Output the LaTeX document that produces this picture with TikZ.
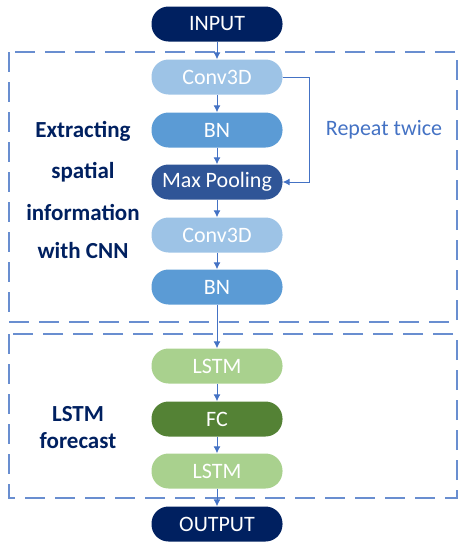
\documentclass[tikz,border=0pt]{standalone}
\usepackage{fontspec}
\setmainfont{Carlito}
\usepackage{tikz}
\tikzset{>=latex}
\usepackage{xcolor}
\usetikzlibrary{arrows.meta}
\definecolor{navy}{HTML}{002060}
\definecolor{convblue}{HTML}{9DC3E6}
\definecolor{bnblue}{HTML}{5B9BD5}
\definecolor{poolblue}{HTML}{2F5597}
\definecolor{lstmgreen}{HTML}{A9D18E}
\definecolor{fcgreen}{HTML}{548235}
\definecolor{linkblue}{HTML}{4472C4}
\tikzset{
    layer/.style={rectangle, rounded corners=17pt, minimum width=131pt, minimum height=35pt,
        inner sep=0pt, text=white, font=\fontsize{22}{26}\selectfont},
    link/.style={linkblue, line width=1pt, -{Latex[length=7pt,width=7pt]}},
    frame/.style={linkblue!80, line width=1.2pt, dash pattern=on 20pt off 10pt},
    caption/.style={navy, font=\fontsize{23}{27}\selectfont\bfseries, align=center}
}

\begin{document}
\begin{tikzpicture}[x=1pt, y=-1pt]
    \useasboundingbox (0, 0) rectangle (471, 550);
    % dashed frames
    \draw [frame] (9, 52) rectangle (457, 322);
    \draw [frame] (9, 334) rectangle (457, 498);
    % layers
    \node [layer, fill=navy] (input) at (217, 24) {INPUT};
    \node [layer, fill=convblue] (conv1) at (217, 77) {Conv3D};
    \node [layer, fill=bnblue] (bn1) at (217, 130) {BN};
    \node [layer, fill=poolblue] (pool) at (217, 182) {Max Pooling};
    \node [layer, fill=convblue] (conv2) at (217, 235) {Conv3D};
    \node [layer, fill=bnblue] (bn2) at (217, 287) {BN};
    \node [layer, fill=lstmgreen] (lstm1) at (217, 366) {LSTM};
    \node [layer, fill=fcgreen] (fc) at (217, 419) {FC};
    \node [layer, fill=lstmgreen] (lstm2) at (217, 471) {LSTM};
    \node [layer, fill=navy] (output) at (217, 524) {OUTPUT};
    % links
    \draw [link] (input) -- (conv1);
    \draw [link] (conv1) -- (bn1);
    \draw [link] (bn1) -- (pool);
    \draw [link] (pool) -- (conv2);
    \draw [link] (conv2) -- (bn2);
    \draw [link] (bn2) -- (lstm1);
    \draw [link] (lstm1) -- (fc);
    \draw [link] (fc) -- (lstm2);
    \draw [link] (lstm2) -- (output);
    \draw [link] (conv1.east) -| (309, 182) -- (pool.east);
    % labels
    \node [linkblue, font=\fontsize{22}{26}\selectfont] (repeat) at (384, 130) {Repeat twice};
    \node [caption] (cnn1) at (83, 131) {Extracting};
    \node [caption] (cnn2) at (83, 172) {spatial};
    \node [caption] (cnn3) at (83, 212) {information};
    \node [caption] (cnn4) at (83, 251) {with CNN};
    \node [caption] (lstmlab) at (78, 428) {LSTM\\forecast};
\end{tikzpicture}
\end{document}
